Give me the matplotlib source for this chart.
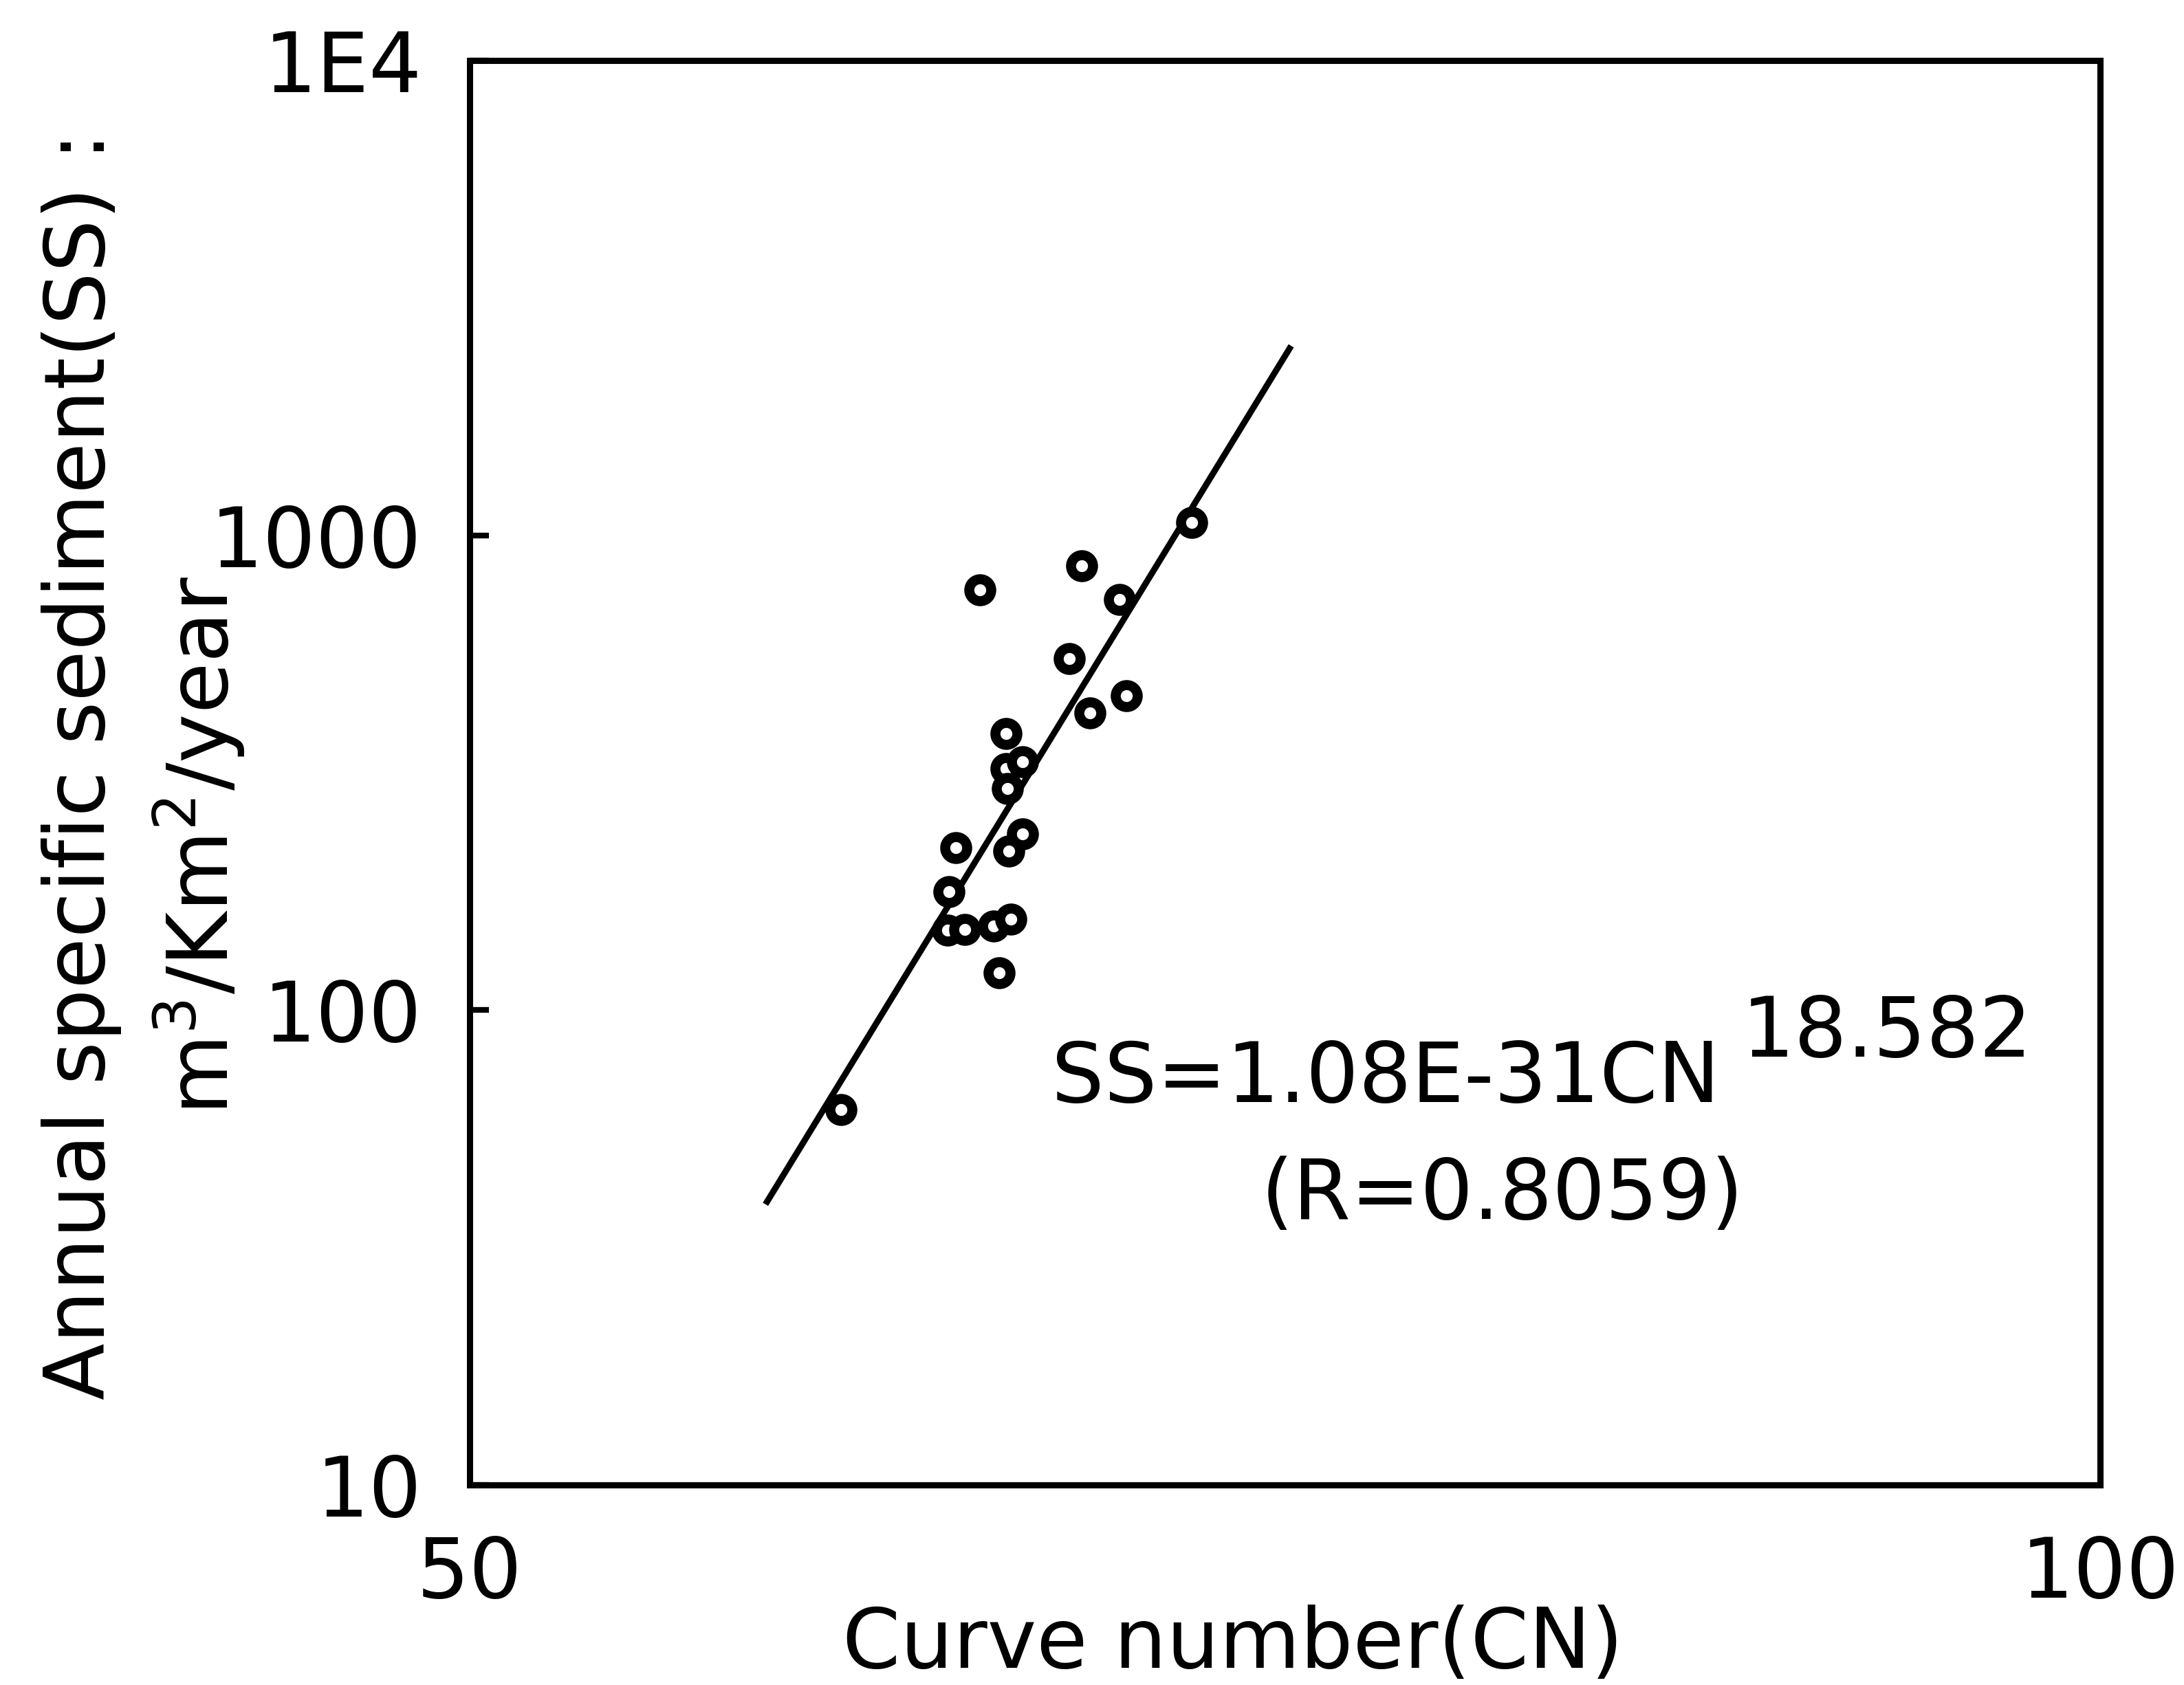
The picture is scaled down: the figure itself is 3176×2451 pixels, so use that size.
import matplotlib
matplotlib.use("Agg")
import matplotlib.pyplot as plt
from matplotlib.ticker import NullLocator, FixedLocator, FixedFormatter

plt.rcParams['font.family'] = ['DejaVu Sans']
plt.rcParams['mathtext.fontset'] = 'dejavusans'

# observed data (curve number vs annual specific sediment)
cn = [58.55, 61.48, 61.30, 61.26, 61.71, 62.11, 62.47, 62.93, 62.62, 62.80,
      62.80, 62.84, 63.25, 63.25, 62.88, 64.52, 64.86, 65.09, 65.91, 66.10, 67.96]
ss = [61.7, 219.9, 177.6, 147.3, 147.8, 767.7, 150.3, 155.4, 119.8, 382.3,
      322.6, 292.8, 333.6, 235.0, 216.1, 550.0, 862.6, 422.6, 732.6, 459.3, 1064.0]

# regression line end points
fit_cn = [56.7, 70.9]
fit_ss = [39.0, 2506.0]

x_ticks = [50, 100]
x_labels = ["50", "100"]
y_ticks = [10, 100, 1000, 10000]
y_labels = ["10", "100", "1000", "1E4"]

FS = 87
fig = plt.figure(figsize=(31.76, 24.51), dpi=100)
ax = fig.add_axes([0.21505, 0.11873, 0.74654, 0.84537])

ax.plot(fit_cn, fit_ss, color='black', lw=6.5, solid_capstyle='butt', zorder=2)
ax.plot(cn, ss, linestyle='none', marker='o', markersize=23, markeredgewidth=10.5,
        markerfacecolor='white', markeredgecolor='black', zorder=3)

ax.set_xscale('log')
ax.set_yscale('log')
ax.set_xlim(50, 100)
ax.set_ylim(10, 10000)

ax.xaxis.set_major_locator(FixedLocator(x_ticks))
ax.xaxis.set_major_formatter(FixedFormatter(x_labels))
ax.xaxis.set_minor_locator(NullLocator())
ax.yaxis.set_major_locator(FixedLocator(y_ticks))
ax.yaxis.set_major_formatter(FixedFormatter(y_labels))
ax.yaxis.set_minor_locator(NullLocator())

ax.tick_params(axis='x', direction='in', length=0, pad=52, labelsize=FS)
ax.tick_params(axis='y', direction='in', length=20, width=6, pad=50, labelsize=FS)

for sp in ax.spines.values():
    sp.set_linewidth(6.5)

ax.set_xlabel("Curve number(CN)", fontsize=FS)
ax.xaxis.set_label_coords(0.468, -0.084)

# two-line y label
fig.text(0.04786, 0.5455, "Annual specific sediment(SS) :", fontsize=FS,
         rotation=90, rotation_mode='anchor', ha='center', va='baseline')
fig.text(0.1045, 0.4982, r"m$^{3}$/Km$^{2}$/year", fontsize=FS,
         rotation=90, rotation_mode='anchor', ha='center', va='baseline')

# regression equation
fig.text(0.4814, 0.3460, "SS=1.08E-31CN", fontsize=FS, ha='left', va='baseline')
fig.text(0.7975, 0.3729, "18.582", fontsize=FS, ha='left', va='baseline')
fig.text(0.6880, 0.2766, "(R=0.8059)", fontsize=FS, ha='center', va='baseline')

fig.savefig("out.png", dpi=100, facecolor='white')
